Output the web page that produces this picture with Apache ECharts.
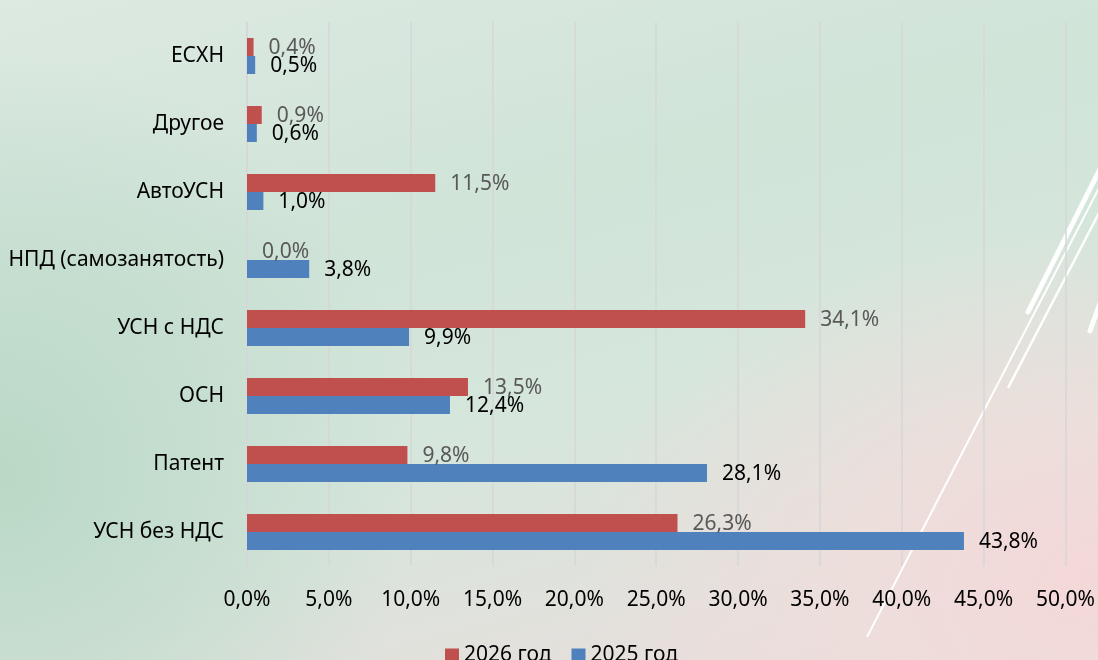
<!DOCTYPE html>
<html>
<head>
<meta charset="utf-8">
<script src="https://cdn.jsdelivr.net/npm/echarts@6/dist/echarts.min.js"></script>
<style>
  html, body {
    margin: 0;
    padding: 0;
    width: 1098px;
    height: 660px;
    overflow: hidden;
  }
  body {
    background:
      radial-gradient(ellipse 520px 360px at 100% 88%, rgba(244,216,216,1) 0%, rgba(240,221,219,0.75) 45%, rgba(240,221,219,0) 100%),
      radial-gradient(ellipse 420px 420px at 0% 72%, rgba(186,216,198,1) 0%, rgba(190,218,202,0.6) 50%, rgba(190,218,202,0) 100%),
      linear-gradient(165deg, #dde9e1 0%, #d0e4d8 35%, #d6e6dc 60%, #e4e0dc 85%, #eadcda 100%);
  }
  #chart {
    width: 1098px;
    height: 660px;
  }
</style>
</head>
<body>
<div id="chart"></div>
<script>
  // категории снизу вверх
  var categories = ['УСН без НДС', 'Патент', 'ОСН', 'УСН с НДС', 'НПД (самозанятость)', 'АвтоУСН', 'Другое', 'ЕСХН'];
  var values2026 = [26.3, 9.8, 13.5, 34.1, 0.0, 11.5, 0.9, 0.4];
  var values2025 = [43.8, 28.1, 12.4, 9.9, 3.8, 1.0, 0.6, 0.5];
  var seriesNames = ['2026 год', '2025 год'];

  var FONT = '"Noto Sans", "Open Sans", sans-serif';

  function pct(v) {
    return v.toFixed(1).replace('.', ',') + '%';
  }

  var chart = echarts.init(document.getElementById('chart'), null, { renderer: 'canvas' });

  var option = {
    backgroundColor: 'transparent',
    textStyle: { fontFamily: FONT },
    animation: false,
    grid: {
      left: 247,
      right: 31,
      top: 22,
      bottom: 94,
      containLabel: false
    },
    legend: {
      data: seriesNames,
      left: 440,
      top: 640,
      itemWidth: 14,
      itemHeight: 14,
      itemGap: 20,
      icon: 'rect',
      textStyle: { fontSize: 21, color: '#000', fontFamily: FONT }
    },
    xAxis: {
      type: 'value',
      min: 0,
      max: 50,
      interval: 5,
      axisLine: { show: false },
      axisTick: { show: false },
      splitLine: { show: true, lineStyle: { color: '#d6d6d8', width: 1.5 } },
      axisLabel: {
        margin: 24,
        fontSize: 21,
        color: '#000',
        fontFamily: FONT,
        formatter: function (v) { return pct(v); }
      }
    },
    yAxis: {
      type: 'category',
      data: categories,
      axisLine: { show: true, lineStyle: { color: '#d6d6d8', width: 1.5 } },
      axisTick: { show: false },
      axisLabel: {
        margin: 23,
        fontSize: 21,
        color: '#000',
        fontFamily: FONT
      }
    },
    graphic: [
      { type: 'line', z: -1, shape: { x1: 1100, y1: 169, x2: 1028, y2: 312 }, style: { stroke: '#fff', lineWidth: 5, lineCap: 'round' } },
      { type: 'line', z: -1, shape: { x1: 1100, y1: 186, x2: 867, y2: 637 }, style: { stroke: '#fff', lineWidth: 2 } },
      { type: 'line', z: -1, shape: { x1: 1100, y1: 211, x2: 1008, y2: 388 }, style: { stroke: '#fff', lineWidth: 2.5 } },
      { type: 'line', z: -1, shape: { x1: 1100, y1: 303, x2: 1090, y2: 331 }, style: { stroke: '#fff', lineWidth: 5, lineCap: 'round' } }
    ],
    series: [
      {
        name: seriesNames[0],
        type: 'bar',
        data: values2026,
        barWidth: 18,
        barGap: '0%',
        z: 3,
        itemStyle: { color: '#C0504D' },
        label: {
          show: true,
          position: 'right',
          distance: 15,
          offset: [0, 1],
          fontSize: 21,
          color: '#595959',
          fontFamily: FONT,
          formatter: function (p) { return pct(p.value); }
        }
      },
      {
        name: seriesNames[1],
        type: 'bar',
        data: values2025,
        barWidth: 18,
        barGap: '0%',
        z: 3,
        itemStyle: { color: '#4F81BD' },
        label: {
          show: true,
          position: 'right',
          distance: 15,
          offset: [0, 1],
          fontSize: 21,
          color: '#000',
          fontFamily: FONT,
          formatter: function (p) { return pct(p.value); }
        }
      }
    ]
  };

  chart.setOption(option);
</script>
</body>
</html>
